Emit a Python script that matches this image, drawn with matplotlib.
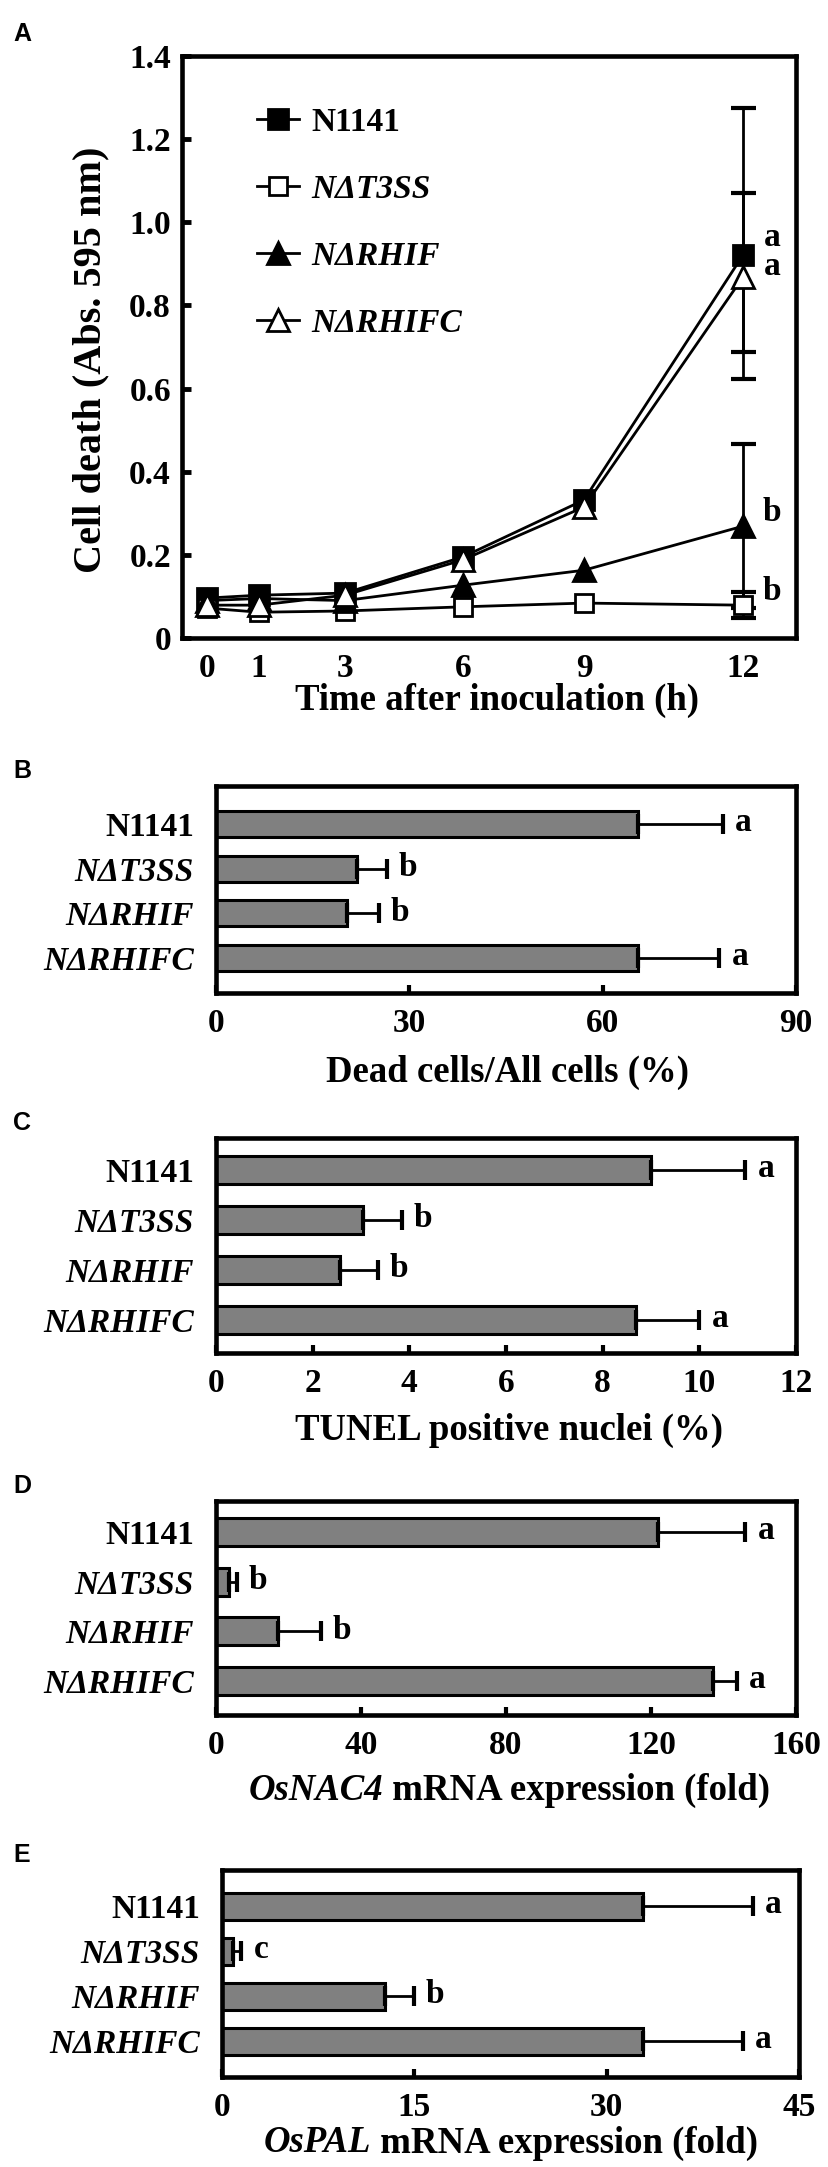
import numpy as np
import matplotlib
matplotlib.use('Agg')
import matplotlib.pyplot as plt

# ---------------- data ----------------
strains = ['N1141', 'NΔT3SS', 'NΔRHIF', 'NΔRHIFC']
strain_italic = [False, True, True, True]

times = [0, 1, 3, 6, 9, 12]
time_ticklabels = ['0', '1', '3', '6', '9', '12']
death_n1141 = [0.096, 0.103, 0.108, 0.195, 0.332, 0.921]
death_t3ss = [0.072, 0.062, 0.065, 0.075, 0.084, 0.079]
death_rhif = [0.090, 0.095, 0.090, 0.127, 0.163, 0.269]
death_rhifc = [0.079, 0.079, 0.103, 0.188, 0.315, 0.868]
err12_lower = [0.299, 0.031, 0.197, 0.180]
err12_upper = [0.353, 0.031, 0.197, 0.202]
letters_death = ['a', 'b', 'b', 'a']
death_yticks = [0, 0.2, 0.4, 0.6, 0.8, 1.0, 1.2, 1.4]
death_yticklabels = ['0', '0.2', '0.4', '0.6', '0.8', '1.0', '1.2', '1.4']

dead_pct = [65.5, 21.9, 20.4, 65.5]
dead_err = [13.1, 4.6, 4.9, 12.6]
dead_letters = ['a', 'b', 'b', 'a']
dead_ticks = [0, 30, 60, 90]

tunel = [9.0, 3.04, 2.57, 8.70]
tunel_err = [1.95, 0.80, 0.78, 1.30]
tunel_letters = ['a', 'b', 'b', 'a']
tunel_ticks = [0, 2, 4, 6, 8, 10, 12]

nac4 = [122.0, 3.6, 17.2, 137.2]
nac4_err = [24.0, 2.1, 11.9, 6.5]
nac4_letters = ['a', 'b', 'b', 'a']
nac4_ticks = [0, 40, 80, 120, 160]

pal = [32.8, 0.86, 12.7, 32.8]
pal_err = [8.6, 0.6, 2.3, 7.8]
pal_letters = ['a', 'c', 'b', 'a']
pal_ticks = [0, 15, 30, 45]

# ---------------- layout ----------------
W, H = 829, 2167
plt.rcParams['font.family'] = ['Liberation Serif', 'DejaVu Serif']
plt.rcParams['font.weight'] = 'bold'

FS = 24       # tick / legend / letter font size
FS_LAB = 26.5 # axis label font size
SPINE_LW = 3.3

fig = plt.figure(figsize=(W / 100, H / 100), dpi=100)
renderer = fig.canvas.get_renderer()


def px_axes(l, t, r, b):
    return fig.add_axes([l / W, 1 - b / H, (r - l) / W, (b - t) / H])


def fig_text(x, y, s, **kw):
    return fig.text(x / W, 1 - y / H, s, **kw)


def mixed_label(cx, cy, parts):
    """parts: list of (text, italic) drawn side by side, centred at (cx, cy) px."""
    texts = []
    for s, it in parts:
        t = fig.text(0, 1 - cy / H, s, ha='left', va='center', fontsize=FS_LAB,
                     fontweight='bold', fontstyle='italic' if it else 'normal')
        texts.append(t)
    widths = [t.get_window_extent(renderer).width for t in texts]
    x = cx - sum(widths) / 2
    for t, w in zip(texts, widths):
        t.set_x(x / W)
        x += w


def style_spines(ax):
    for sp in ax.spines.values():
        sp.set_linewidth(SPINE_LW)
        sp.set_color('black')


# ---------------- Panel A ----------------
# horizontal placement of the time points along the axis (non-uniform in the original)
axis_pos = [0, 1.164, 3.09, 5.73, 8.44, 12.0]
tx = [-10] + times + [30]
pxs = [-10 * 1.164] + axis_pos + [12 + 18 * 1.187]


def fwd(t):
    return np.interp(t, tx, pxs)


def inv(p):
    return np.interp(p, pxs, tx)


axA = px_axes(182, 56, 796, 638)
axA.set_xscale('function', functions=(fwd, inv))
style_spines(axA)

series = [death_n1141, death_t3ss, death_rhif, death_rhifc]
markers = ['s', 's', '^', '^']
mfcs = ['black', 'white', 'black', 'white']
msizes = [14, 13, 16, 16]
letter_dy = [13, 10, 10, 8]
lines = []
for i, vals in enumerate(series):
    axA.errorbar([times[-1]], [vals[-1]], yerr=[[err12_lower[i]], [err12_upper[i]]],
                 fmt='none', ecolor='black', elinewidth=2.0, capsize=9, capthick=3,
                 zorder=2)
for i, vals in enumerate(series):
    ln, = axA.plot(times, vals, color='black', lw=2.0, marker=markers[i],
                   ms=msizes[i], mfc=mfcs[i], mec='black', mew=2.0, zorder=3 + i,
                   clip_on=False)
    lines.append(ln)
    axA.annotate(letters_death[i], (times[-1], vals[-1]), xytext=(21, letter_dy[i]),
                 textcoords='offset points', ha='center', va='center',
                 fontsize=FS, fontweight='bold')

axA.set_xlim(-0.48, 13.0)
axA.set_ylim(0, 1.4)
axA.set_xticks(times)
axA.set_xticklabels(time_ticklabels)
axA.set_yticks(death_yticks)
axA.set_yticklabels(death_yticklabels)
axA.tick_params(axis='x', length=0, pad=11, labelsize=FS)
axA.tick_params(axis='y', direction='in', length=6.5, width=3.5, pad=8, labelsize=FS)
axA.xaxis.set_minor_locator(matplotlib.ticker.NullLocator())
axA.yaxis.set_minor_locator(matplotlib.ticker.NullLocator())

leg = axA.legend(handles=lines, labels=strains, loc='upper left',
                 bbox_to_anchor=(0.122, 0.913), frameon=False, borderpad=0,
                 borderaxespad=0, handlelength=1.25, handletextpad=0.38,
                 labelspacing=1.08, prop={'size': FS, 'weight': 'bold'})
for t, it in zip(leg.get_texts(), strain_italic):
    if it:
        t.set_fontstyle('italic')

fig_text(497, 700, 'Time after inoculation (h)', ha='center', va='center',
         fontsize=FS_LAB, fontweight='bold')
fig_text(91, 360, 'Cell death (Abs. 595 nm)', ha='center', va='center',
         rotation=90, fontsize=29, fontweight='bold')
fig_text(13, 34, 'A', ha='left', va='center', fontsize=18, fontweight='bold',
         family=['Liberation Sans', 'DejaVu Sans'])


# ---------------- bar panels ----------------
def bar_panel(rect, vals, errs, letters, ticks, xmax, ylim, bar_h, xlabel_parts,
              xlabel_xy, panel, panel_y):
    ax = px_axes(*rect)
    style_spines(ax)
    ypos = np.arange(len(strains))
    ax.barh(ypos, vals, height=bar_h, color='#808080', edgecolor='black',
            linewidth=2.2, zorder=2)
    ax.errorbar(vals, ypos, xerr=[np.zeros(len(vals)), errs], fmt='none',
                ecolor='black', elinewidth=2.0, capsize=7, capthick=3, zorder=3)
    for i in range(len(vals)):
        ax.annotate(letters[i], (vals[i] + errs[i], ypos[i]), xytext=(15, 1),
                    textcoords='offset points', ha='center', va='center',
                    fontsize=FS, fontweight='bold')
    ax.set_xlim(0, xmax)
    ax.set_ylim(*ylim)
    ax.set_yticks(ypos)
    ax.set_yticklabels(strains)
    for t, it in zip(ax.get_yticklabels(), strain_italic):
        if it:
            t.set_fontstyle('italic')
    ax.set_xticks(ticks)
    ax.set_xticklabels([str(v) for v in ticks])
    ax.tick_params(axis='y', length=0, pad=16, labelsize=FS)
    ax.tick_params(axis='x', direction='in', length=6, width=3, pad=11, labelsize=FS)
    mixed_label(xlabel_xy[0], xlabel_xy[1], xlabel_parts)
    fig_text(13, panel_y, panel, ha='left', va='center', fontsize=18,
             fontweight='bold', family=['Liberation Sans', 'DejaVu Sans'])
    return ax


bar_panel((216, 786, 796, 993), dead_pct, dead_err, dead_letters, dead_ticks, 90,
          (3.78, -0.85), 0.58, [('Dead cells/All cells (%)', False)], (507, 1072),
          'B', 771)
bar_panel((216, 1138, 796, 1353), tunel, tunel_err, tunel_letters, tunel_ticks, 12,
          (3.66, -0.64), 0.55, [('TUNEL positive nuclei (%)', False)], (509, 1430),
          'C', 1123)
bar_panel((216, 1501, 796, 1715), nac4, nac4_err, nac4_letters, nac4_ticks, 160,
          (3.68, -0.62), 0.56,
          [('OsNAC4', True), (' mRNA expression (fold)', False)], (509, 1790),
          'D', 1486)
bar_panel((222, 1870, 799, 2077), pal, pal_err, pal_letters, pal_ticks, 45,
          (3.8, -0.8), 0.6,
          [('OsPAL', True), (' mRNA expression (fold)', False)], (511, 2143),
          'E', 1855)

fig.savefig('out.png', dpi=100)
